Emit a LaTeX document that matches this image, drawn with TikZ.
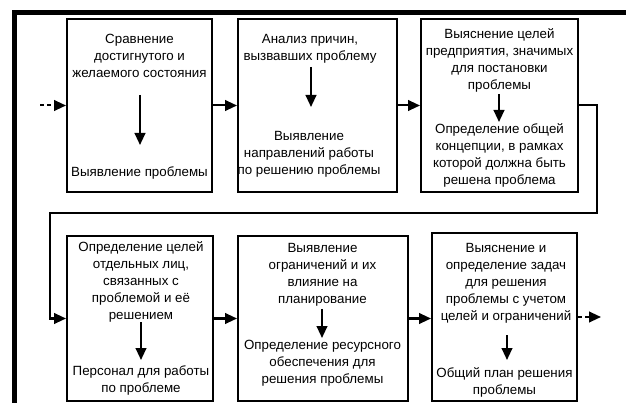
\documentclass[tikz,border=0pt]{standalone}
\usepackage{fontspec}
\setmainfont{Liberation Sans}
\usetikzlibrary{arrows.meta,calc}
\tikzset{
  blk/.style={draw, line width=1.5pt, inner sep=0pt},
  txt/.style={inner sep=0pt, align=center, font=\fontsize{10}{12.75}\selectfont},
  arr/.style={line width=1.5pt, -{Triangle[length=9pt,width=8pt]}},
  darr/.style={arr, dash pattern=on 3pt off 2.25pt}
}
\begin{document}
\begin{tikzpicture}[x=0.75pt,y=-0.75pt]
  \useasboundingbox (0,0) rectangle (626,403);
  % frame
  \draw[line width=3.75pt] (14.5,403) -- (14.5,13) -- (626,13);
  % boxes
  \foreach \n/\x/\y/\w/\h in {%
    1/139.5/105.5/145/173, 2/317.5/105.5/159/173, 3/499.5/105.5/157/173,
    4/140/318.5/146/165, 5/323/318.5/170/165, 6/504.5/317/145/168
  }{
    \node[blk, minimum width=\w*0.75pt, minimum height=\h*0.75pt] (b\n) at (\x,\y) {};
  }
  % texts
  \node[txt] (t1) at (139.5,56) {Сравнение\\достигнутого и\\желаемого состояния};
  \node[txt] (u1) at (139.5,173) {Выявление проблемы};
  \node[txt] (t2) at (310,48.5) {Анализ причин,\\вызвавших проблему};
  \node[txt] (u2) at (309,154) {Выявление\\направлений работы\\по решению проблемы};
  \node[txt] (t3) at (499.5,60) {Выяснение целей\\предприятия, значимых\\для постановки\\проблемы};
  \node[txt] (u3) at (499.5,155) {Определение общей\\концепции, в рамках\\которой должна быть\\решена проблема};
  \node[txt] (t4) at (141,282) {Определение целей\\отдельных лиц,\\связанных с\\проблемой и её\\решением};
  \node[txt] (u4) at (141,380) {Персонал для работы\\по проблеме};
  \node[txt] (t5) at (322.5,274.5) {Выявление\\ограничений и их\\влияние на\\планирование};
  \node[txt] (u5) at (322.5,363) {Определение ресурсного\\обеспечения для\\решения проблемы};
  \node[txt] (t6) at (506,283) {Выяснение и\\определение задач\\для решения\\проблемы с учетом\\целей и ограничений};
  \node[txt] (u6) at (504.5,382) {Общий план решения\\проблемы};
  % arrows inside the boxes
  \foreach \n/\dx/\s/\e in {1/0.5/39/-28, 2/1/18.5/-47, 3/-0.5/34/-33,
    4/0/40/-20, 5/-0.5/34.5/-25, 6/1/52/-22}{
    \draw[arr] ($(t\n)+(\dx,\s)$) -- ($(t\n |- u\n)+(\dx,\e)$);
  }
  % links between the boxes
  \coordinate (in) at (40,105.5);
  \coordinate (out) at (601,317);
  \coordinate (turn) at (50,213);
  \draw[darr] (in) -- (b1.west);
  \draw[arr] (b1.east) -- (b2.west);
  \draw[arr] (b2.east) -- (b3.west);
  \draw[arr] (b3.east) -- ++(17.5,0) |- (turn) |- (b4.west);
  \draw[arr] (b4.east) -- (b5.west);
  \draw[arr] (b5.east) -- (b5.east -| b6.west);
  \draw[darr] (b6.east) -- (out);
\end{tikzpicture}
\end{document}
